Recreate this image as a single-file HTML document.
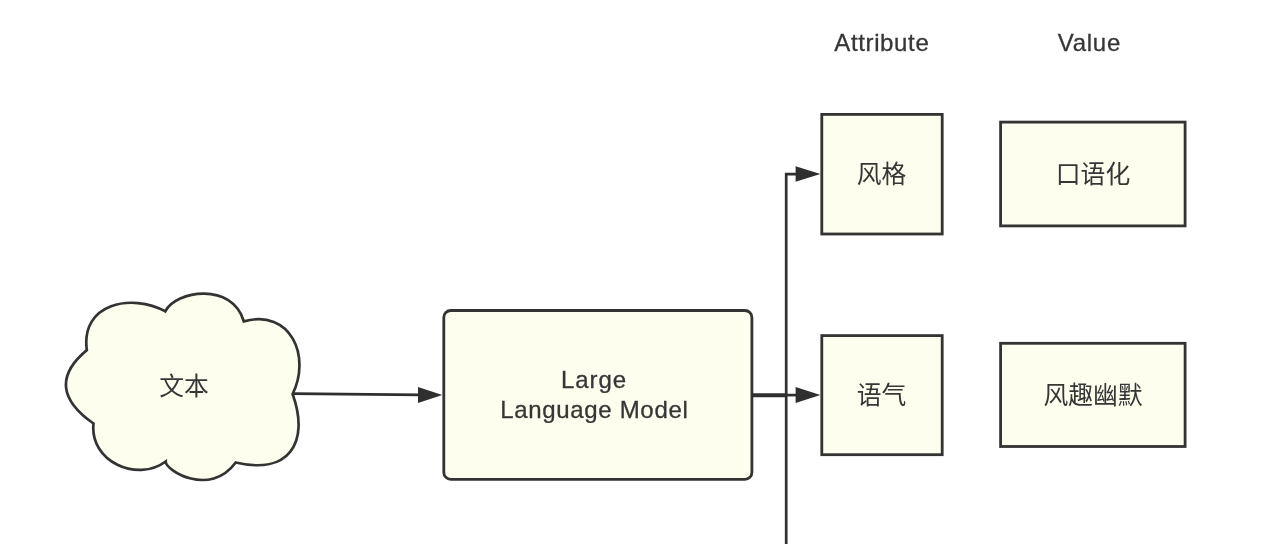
<!DOCTYPE html>
<html lang="zh">
<head>
<meta charset="utf-8">
<title>Diagram</title>
<style>
html,body{margin:0;padding:0;background:#fff;}
body{width:1280px;height:544px;overflow:hidden;position:relative;}
svg{position:absolute;left:0;top:0;display:block;}
text{font-family:"Liberation Sans","Noto Sans CJK SC",sans-serif;fill:#363636;filter:grayscale(1);}
.cj{font-family:"Noto Sans CJK SC","Liberation Sans",sans-serif;font-size:24.8px;font-weight:400;}
.en{font-size:24px;stroke:#363636;stroke-width:0.3;}
.bx{fill:#fefeef;stroke:#333;stroke-width:2.8;}
.ln{stroke:#2f2f2f;fill:none;}
.ah{fill:#2f2f2f;stroke:none;}
</style>
</head>
<body>
<svg width="1280" height="544" viewBox="0 0 1280 544">
  <!-- cloud -->
  <path class="bx" id="cloud" style="stroke-width:2.7" d="M 93.5 423.5 C 60.4 400.4 55.8 375.9 86.8 350.1 C 80.5 303.0 131.8 293.1 165.3 311.3 C 175.5 290.4 232.6 281.7 243.8 321.4 C 290.6 308.3 311.3 356.4 292.6 394.0 C 310.2 443.0 288.4 475.1 235.7 462.5 C 209.8 497.7 165.4 470.4 165.7 461.5 C 137.2 482.8 89.4 461.5 93.5 423.5 Z"/>
  <text class="cj" x="184" y="394.5" text-anchor="middle">文本</text>

  <!-- arrow cloud -> LLM -->
  <line class="ln" x1="293.5" y1="393.6" x2="420" y2="394.9" stroke-width="2.6"/>
  <polygon class="ah" points="442.3,395 418,387 418,403"/>

  <!-- LLM box -->
  <rect class="bx" x="443.8" y="310.5" width="308.1" height="168.9" rx="7" ry="7"/>
  <text class="en" x="593.6" y="387.5" text-anchor="middle" textLength="65" lengthAdjust="spacing">Large</text>
  <text class="en" x="594" y="417.5" text-anchor="middle" textLength="187.5" lengthAdjust="spacing">Language Model</text>

  <!-- arrow LLM -> 语气 -->
  <line class="ln" x1="752" y1="395.2" x2="786" y2="395.2" stroke-width="4"/>
  <line class="ln" x1="786" y1="395.1" x2="798" y2="395.1" stroke-width="2.7"/>
  <polygon class="ah" points="820.4,395 795.6,387 795.6,403"/>

  <!-- vertical line -->
  <path class="ln" d="M 786.2 544 L 786.2 174.2 L 798 174.2" stroke-width="2.7"/>
  <polygon class="ah" points="820.4,174 795.6,166.2 795.6,181.8"/>

  <!-- attribute boxes -->
  <rect class="bx" x="821.8" y="114.4" width="120.4" height="119.6"/>
  <text class="cj" x="881.6" y="182.5" text-anchor="middle">风格</text>
  <rect class="bx" x="821.8" y="335.6" width="120.4" height="119.1"/>
  <text class="cj" x="881.6" y="404" text-anchor="middle">语气</text>

  <!-- value boxes -->
  <rect class="bx" x="1000.6" y="122.1" width="184.5" height="103.8"/>
  <text class="cj" x="1093" y="182.5" text-anchor="middle">口语化</text>
  <rect class="bx" x="1000.6" y="343.3" width="184.5" height="103.2"/>
  <text class="cj" x="1093" y="404" text-anchor="middle">风趣幽默</text>

  <!-- headers -->
  <text class="en" x="881.5" y="50.7" text-anchor="middle" textLength="94.5" lengthAdjust="spacing">Attribute</text>
  <text class="en" x="1089" y="50.7" text-anchor="middle" textLength="62.5" lengthAdjust="spacing">Value</text>
</svg>
</body>
</html>
